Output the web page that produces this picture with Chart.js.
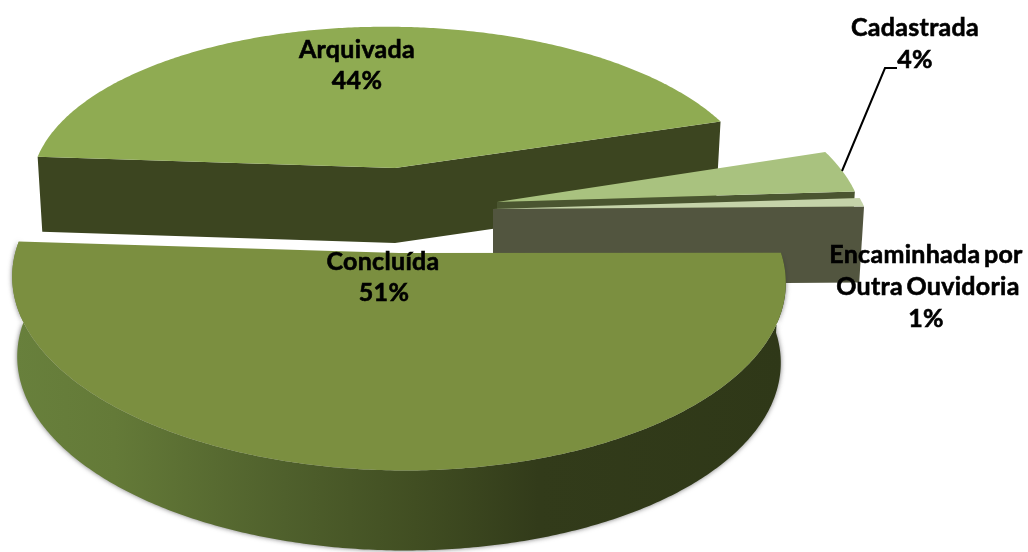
<!DOCTYPE html>
<html lang="pt">
<head>
<meta charset="UTF-8">
<title>Situação</title>
<script src="https://cdn.jsdelivr.net/npm/chart.js@4/dist/chart.umd.min.js"></script>
<style>
  html, body { margin: 0; background: #fff; }
  #wrap { width: 1028px; height: 552px; }
</style>
</head>
<body>
<div id="wrap"><canvas id="myChart" width="1028" height="552"></canvas></div>
<script>
const categories = ['Concluída', 'Arquivada', 'Cadastrada', 'Encaminhada por Outra Ouvidoria']
const values = [51, 44, 4, 1]
const topColors = ['#7b8f40', '#8fab52', '#a9c27f', '#c5d3a9']
const wallColors = ['#3c4520', '#3c4520', '#4a5530', '#52553f']

// slice placement on the picture, index follows categories
const views = [
  { cx: 399, cy: 253, rx: 383, ry: 187, depth: 80, tilt: 0.008 },
  { cx: 395, cy: 168, rx: 360, ry: 161, depth: 75, tilt: 0.011 },
  { cx: 497, cy: 202, rx: 363, ry: 169, depth: 75, tilt: 0.008 },
  { cx: 493, cy: 209, rx: 372, ry: 139, depth: 76, tilt: 0 }
]
const persp = 0.14
const drawOrder = [1, 2, 3, 0]

const labelSpots = [
  [[383, 262], [384, 293]],
  [[357, 50], [357, 81]],
  [[915, 28], [915, 60]],
  [[926, 255], [928, 287], [926, 319]]
]
const labelLines = [
  ['Concluída'],
  ['Arquivada'],
  ['Cadastrada'],
  ['Encaminhada por', 'Outra Ouvidoria']
]

// maps an angle of the pie onto the tilted plane
function project(view, angle, drop) {
  const u = Math.cos(angle), v = Math.sin(angle)
  const w = 1 - persp * v
  const shrink = drop ? 0.987 : 1
  const dx = shrink * view.rx * u / w
  return [view.cx + dx, view.cy + (drop || 0) + view.ry * v / w + view.tilt * dx]
}

function arcPoints(view, a0, a1, drop) {
  const pts = []
  const n = Math.max(2, Math.ceil(Math.abs(a1 - a0) / 0.01))
  for (let i = 0; i <= n; i++) pts.push(project(view, a0 + (a1 - a0) * i / n, drop))
  return pts
}

function fillPoly(ctx, pts, fill) {
  ctx.beginPath()
  pts.forEach((p, i) => i ? ctx.lineTo(p[0], p[1]) : ctx.moveTo(p[0], p[1]))
  ctx.closePath()
  ctx.fillStyle = fill
  ctx.fill()
}

const pie3d = {
  id: 'pie3d',
  beforeDatasetDraw() { return false },
  afterDatasetsDraw(chart) {
    const ctx = chart.ctx
    const arcs = chart.getDatasetMeta(0).data
    ctx.save()
    drawOrder.forEach(i => {
      const view = views[i], a0 = arcs[i].startAngle, a1 = arcs[i].endAngle
      const apex = [view.cx, view.cy]
      const apexLow = [view.cx, view.cy + view.depth]
      if (i === 0) {
        // round front wall of the big slice
        const g = ctx.createLinearGradient(15, 0, 785, 0)
        g.addColorStop(0, '#68803c')
        g.addColorStop(0.13, '#647a38')
        g.addColorStop(0.35, '#4f602c')
        g.addColorStop(0.52, '#414e22')
        g.addColorStop(0.68, '#323b1a')
        g.addColorStop(1, '#2f3818')
        ctx.save()
        ctx.shadowColor = 'rgba(60,60,60,0.7)'
        ctx.shadowBlur = 5
        fillPoly(ctx, arcPoints(view, a0, a1).concat(arcPoints(view, a1, a0, view.depth)), g)
        ctx.restore()
      } else {
        // flat cut faces
        const left = project(view, a0), right = project(view, a1)
        const leftLow = project(view, a0, view.depth), rightLow = project(view, a1, view.depth)
        if (i === 1) {
          fillPoly(ctx, [left, apex, right, rightLow, apexLow, leftLow], wallColors[i])
        } else {
          fillPoly(ctx, [apex, right, rightLow, apexLow], wallColors[i])
        }
      }
      fillPoly(ctx, [apex].concat(arcPoints(view, a0, a1)), topColors[i])
    })

    // leader line of Cadastrada
    ctx.strokeStyle = '#000'
    ctx.lineWidth = 2
    ctx.beginPath()
    ctx.moveTo(842, 171)
    ctx.lineTo(885, 68)
    ctx.lineTo(897, 68)
    ctx.stroke()

    ctx.fillStyle = '#000'
    ctx.lineWidth = 0.6
    ctx.font = 'bold 25px Lato'
    ctx.letterSpacing = '0.3px'
    ctx.wordSpacing = '-3px'
    ctx.textAlign = 'center'
    ctx.textBaseline = 'middle'
    categories.forEach((c, i) => {
      const rows = labelLines[i].concat(values[i] + '%')
      rows.forEach((t, r) => {
        ctx.fillText(t, labelSpots[i][r][0], labelSpots[i][r][1])
        ctx.strokeText(t, labelSpots[i][r][0], labelSpots[i][r][1])
      })
    })
    ctx.restore()
  }
}

const ctx = document.getElementById('myChart').getContext('2d')
const myChart = new Chart(ctx, {
  type: 'pie',
  data: {
    labels: categories,
    datasets: [{ data: values, backgroundColor: topColors, borderWidth: 0 }]
  },
  options: {
    responsive: false,
    animation: false,
    rotation: 89,
    plugins: { legend: { display: false }, tooltip: { enabled: false } }
  },
  plugins: [pie3d]
})
</script>
</body>
</html>
